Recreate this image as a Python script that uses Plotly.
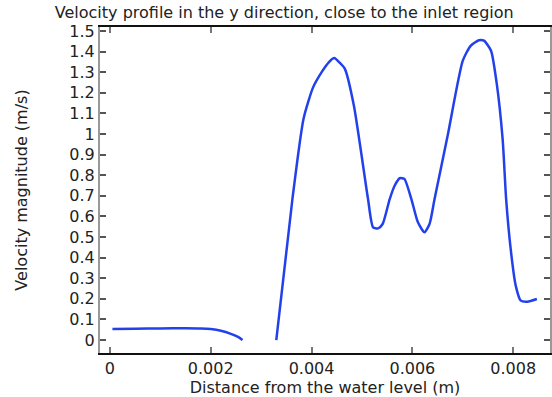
import plotly.graph_objects as go

# Segment 1 (near water level)
x1 = [0.00005, 0.0005, 0.0010, 0.0015, 0.0018, 0.0020, 0.0022, 0.0024, 0.00255, 0.00263]
y1 = [0.054, 0.055, 0.056, 0.057, 0.056, 0.053, 0.045, 0.030, 0.014, 0.0]

# Segment 2 (jet region)
x2 = [0.00330, 0.00362, 0.00384, 0.00403, 0.00420, 0.00435, 0.00445, 0.00456, 0.00466,
      0.00484, 0.00512, 0.00522, 0.00532, 0.00541, 0.00555, 0.00565, 0.00575, 0.00584,
      0.00598, 0.00611, 0.00624, 0.00634, 0.00644, 0.00670, 0.00700, 0.00716, 0.00732,
      0.00742, 0.00756, 0.00767, 0.00779, 0.00786, 0.00795, 0.00805, 0.00815, 0.00828, 0.00847]
y2 = [0.0, 0.684, 1.073, 1.226, 1.300, 1.350, 1.368, 1.345, 1.316,
      1.137, 0.684, 0.547, 0.542, 0.563, 0.684, 0.750, 0.785, 0.782,
      0.684, 0.571, 0.523, 0.563, 0.684, 0.992, 1.356, 1.429, 1.455,
      1.453, 1.404, 1.250, 0.976, 0.684, 0.442, 0.264, 0.191, 0.186, 0.199]

x_ticks = [0, 0.002, 0.004, 0.006, 0.008]
x_tick_labels = ["0", "0.002", "0.004", "0.006", "0.008"]
y_ticks = [0, 0.1, 0.2, 0.3, 0.4, 0.5, 0.6, 0.7, 0.8, 0.9, 1.0, 1.1, 1.2, 1.3, 1.4, 1.5]
y_tick_labels = ["0", "0.1", "0.2", "0.3", "0.4", "0.5", "0.6", "0.7", "0.8", "0.9",
                 "1", "1.1", "1.2", "1.3", "1.4", "1.5"]

line_color = "rgb(35,65,235)"
font_family = "DejaVu Sans"

fig = go.Figure()
fig.add_trace(go.Scatter(x=x1, y=y1, mode="lines", line=dict(color=line_color, width=2.5, shape="spline", smoothing=0.6), showlegend=False))
fig.add_trace(go.Scatter(x=x2, y=y2, mode="lines", line=dict(color=line_color, width=2.5, shape="spline", smoothing=0.6), showlegend=False))

fig.update_layout(
    width=552, height=397,
    margin=dict(l=100, r=0, t=27, b=44),
    paper_bgcolor="white", plot_bgcolor="white",
    font=dict(family=font_family, size=16, color="#222"),
    title=dict(text="Velocity profile in the y direction, close to the inlet region",
               x=0.515, xref="container", xanchor="center", y=0.97, yanchor="middle",
               font=dict(size=16, color="#222")),
)
fig.update_xaxes(
    range=[-0.000197, 0.00873],
    tickvals=x_ticks, ticktext=x_tick_labels,
    ticks="inside", ticklen=6, tickcolor="#777", tickwidth=2,
    showline=True, linecolor="#111", linewidth=1.5, mirror="ticks",
    showgrid=False, zeroline=False,
    title=dict(text="Distance from the water level (m)", standoff=1, font=dict(size=16)),
    tickfont=dict(size=16),
)
fig.update_yaxes(
    range=[-0.063, 1.519],
    tickvals=y_ticks, ticktext=y_tick_labels,
    ticks="inside", ticklen=6, tickcolor="#555", tickwidth=1.5,
    showline=True, linecolor="#999", linewidth=2, mirror="ticks",
    showgrid=False, zeroline=False,
    title=dict(text="Velocity magnitude (m/s)", standoff=38, font=dict(size=16)),
    tickfont=dict(size=16),
)

fig.write_html("out.html")
